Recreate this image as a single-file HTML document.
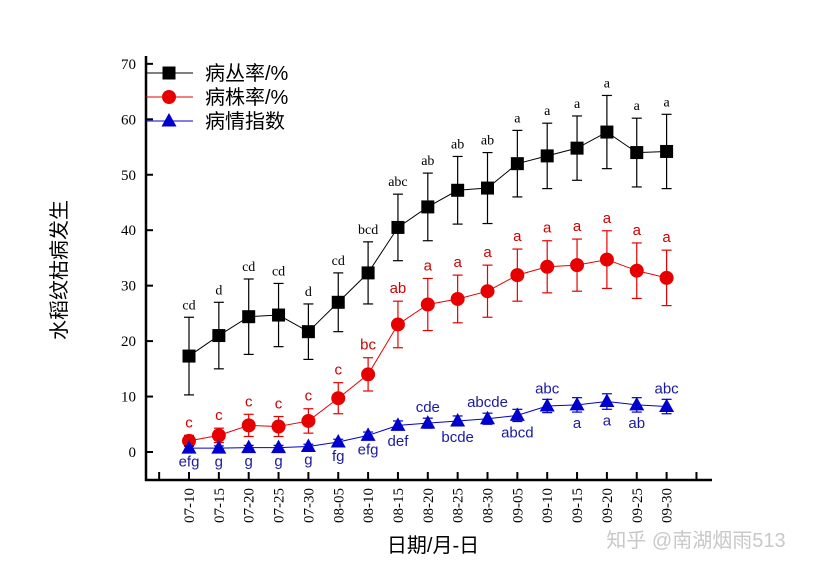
<!DOCTYPE html>
<html><head><meta charset="utf-8"><style>
body{margin:0;background:#fff;}
svg{display:block;}
</style></head><body>
<svg id="chart" width="825" height="573" viewBox="0 0 825 573" xmlns="http://www.w3.org/2000/svg">
<g id="axes"></g><g id="series"></g><g id="legend"></g>
<text x="66" y="270" transform="rotate(-90 66 270)" text-anchor="middle" font-family="'Liberation Sans','Noto Sans CJK SC',sans-serif" font-size="20" fill="#000">水稻纹枯病发生</text>
<text x="433" y="552" text-anchor="middle" font-family="'Liberation Sans','Noto Sans CJK SC',sans-serif" font-size="20" fill="#000">日期/月-日</text>
<text x="696" y="547" text-anchor="middle" font-family="'Liberation Sans','Noto Sans CJK SC',sans-serif" font-size="20" fill="#c8c8c8">知乎 @南湖烟雨513</text>
</svg>
<script>
const categories=["07-10","07-15","07-20","07-25","07-30","08-05","08-10","08-15","08-20","08-25","08-30","09-05","09-10","09-15","09-20","09-25","09-30"];
const clusterRate=[17.3,21,24.4,24.7,21.7,27,32.3,40.5,44.2,47.2,47.6,52,53.4,54.8,57.7,54,54.2];
const clusterErr=[7,6,6.8,5.7,5,5.3,5.6,6,6.1,6.1,6.4,6,5.9,5.8,6.6,6.2,6.7];
const clusterLabels=["cd","d","cd","cd","d","cd","bcd","abc","ab","ab","ab","a","a","a","a","a","a"];
const plantRate=[2,3,4.8,4.6,5.6,9.7,14,23,26.6,27.6,29,31.9,33.4,33.7,34.7,32.7,31.4];
const plantErr=[1,1.3,2,1.8,2.2,2.8,3,4.2,4.7,4.3,4.7,4.7,4.7,4.7,5.2,5,5];
const plantLabels=["c","c","c","c","c","c","bc","ab","a","a","a","a","a","a","a","a","a"];
const diseaseIndex=[0.7,0.7,0.8,0.8,1,1.8,3,4.8,5.2,5.6,6,6.6,8.3,8.5,9.1,8.5,8.2];
const indexErr=[0.4,0.4,0.4,0.4,0.4,0.5,0.6,0.8,0.9,0.9,1,1.1,1.2,1.3,1.4,1.3,1.3];
const indexLabels=["efg","g","g","g","g","fg","efg","def","cde","bcde","abcde","abcd","abc","a","a","ab","abc"];
const indexLabelAbove=[0,0,0,0,0,0,0,0,1,0,1,0,1,0,0,0,1];
const yTicks=[0,10,20,30,40,50,60,70];

const NS="http://www.w3.org/2000/svg";
const X=i=>189+i*29.85;
const Y=v=>452-v*5.545;
function mk(tag,attrs,parent,txt){const e=document.createElementNS(NS,tag);for(const k in attrs)e.setAttribute(k,attrs[k]);if(txt!==undefined)e.textContent=txt;parent.appendChild(e);return e;}
const axes=document.getElementById('axes');
let e=mk('line',{x1:146,y1:56,x2:146,y2:481,stroke:'#000','stroke-width':2.5},axes);


e=mk('line',{x1:145,y1:480,x2:712,y2:480,stroke:'#000','stroke-width':2.5},axes);


yTicks.forEach(t=>{
 mk('line',{x1:146,y1:Y(t),x2:153,y2:Y(t),stroke:'#000','stroke-width':2},axes);
 e=mk('text',{x:136,y:Y(t)+5,'text-anchor':'end','font-family':'Liberation Serif,serif','font-size':15},axes,String(t));
 
 
});
for(let i=-1;i<=categories.length;i++){mk('line',{x1:X(i),y1:480,x2:X(i),y2:472,stroke:'#000','stroke-width':2},axes);}
categories.forEach((c,i)=>{
 e=mk('text',{x:X(i)+5,y:488,transform:`rotate(-90 ${X(i)+5} 488)`,'text-anchor':'end','font-family':'Liberation Serif,serif','font-size':15},axes,c);
 
 
});
const series=document.getElementById('series');
function drawSeries(vals,errs,color,shape,name){
 const g=mk('g',{},series);
 
 
 mk('polyline',{points:vals.map((v,i)=>X(i)+','+Y(v)).join(' '),fill:'none',stroke:color,'stroke-width':1},g);
 vals.forEach((v,i)=>{
  const x=X(i),t=Y(v+errs[i]),b=Y(v-errs[i]);
  mk('line',{x1:x,y1:t,x2:x,y2:b,stroke:color,'stroke-width':1.2},g);
  mk('line',{x1:x-5,y1:t,x2:x+5,y2:t,stroke:color,'stroke-width':1.2},g);
  mk('line',{x1:x-5,y1:b,x2:x+5,y2:b,stroke:color,'stroke-width':1.2},g);
  let m;
  if(shape==='sq')m=mk('rect',{x:x-6.5,y:Y(v)-6.5,width:13,height:13,fill:color},g);
  else if(shape==='ci')m=mk('circle',{cx:x,cy:Y(v),r:7,fill:color},g);
  else m=mk('polygon',{points:`${x},${Y(v)-8} ${x-7.5},${Y(v)+5.5} ${x+7.5},${Y(v)+5.5}`,fill:color},g);
  
  
 });
 return g;
}
const gb=drawSeries(clusterRate,clusterErr,'#000','sq','cluster-rate');
clusterLabels.forEach((l,i)=>{e=mk('text',{x:X(i),y:Y(clusterRate[i]+clusterErr[i])-8,'text-anchor':'middle','font-family':'Liberation Serif,serif','font-size':14,fill:'#000'},gb,l);
 
 });
const gr=drawSeries(plantRate,plantErr,'#e60000','ci','plant-rate');
plantLabels.forEach((l,i)=>{e=mk('text',{x:X(i),y:Y(plantRate[i]+plantErr[i])-8,'text-anchor':'middle','font-family':'Liberation Sans,sans-serif','font-size':15,fill:'#d00000'},gr,l);
 
 });
const gi=drawSeries(diseaseIndex,indexErr,'#0000cc','tr','disease-index');
indexLabels.forEach((l,i)=>{const up=indexLabelAbove[i];
 const y=up?Y(diseaseIndex[i]+indexErr[i])-6:Y(diseaseIndex[i]-indexErr[i])+16;
 e=mk('text',{x:X(i),y:y,'text-anchor':'middle','font-family':'Liberation Sans,sans-serif','font-size':15,fill:'#1a1aa0'},gi,l);
 
 });
const lg=document.getElementById('legend');


[['病丛率/%','#000','sq',73],['病株率/%','#e60000','ci',97],['病情指数','#0000cc','tr',121]].forEach(([t,c,s,y])=>{
 const g=mk('g',{},lg);
 
 
 mk('line',{x1:146,y1:y,x2:193,y2:y,stroke:c,'stroke-width':1},g);
 if(s==='sq')mk('rect',{x:162.5,y:y-6.5,width:13,height:13,fill:c},g);
 else if(s==='ci')mk('circle',{cx:169,cy:y,r:7,fill:c},g);
 else mk('polygon',{points:`169,${y-8} 161.5,${y+5.5} 176.5,${y+5.5}`,fill:c},g);
 mk('text',{x:205,y:y+7,'font-family':"'Liberation Sans','Noto Sans CJK SC',sans-serif",'font-size':20,fill:'#000'},g,t);
});
</script>
</body></html>
